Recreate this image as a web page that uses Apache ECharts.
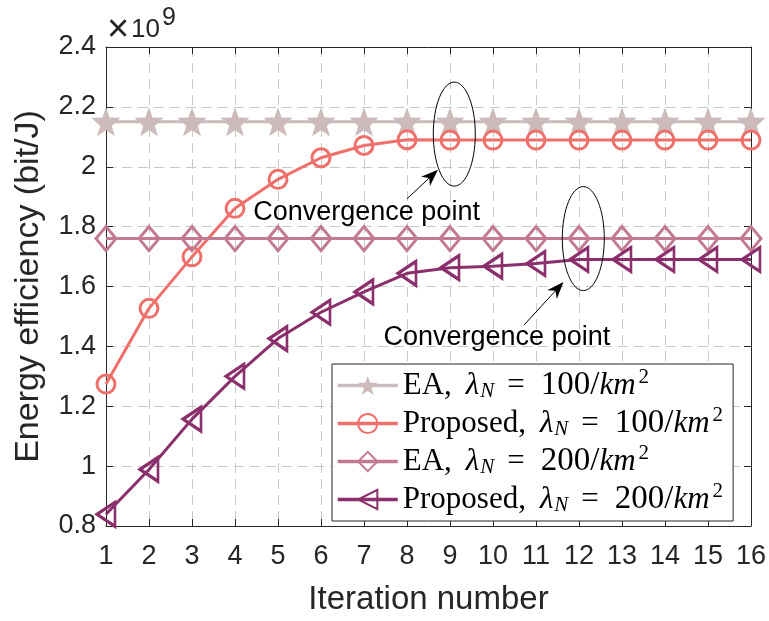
<!DOCTYPE html>
<html><head><meta charset="utf-8">
<script src="https://cdn.jsdelivr.net/npm/echarts/dist/echarts.min.js"></script>
<style>html,body{margin:0;padding:0;background:#fff}#c{width:769px;height:621px}</style>
</head><body><div id="c"></div><script>
// ---- data (energy efficiency in units of 10^9 bit/J) ----
const iterations = [1,2,3,4,5,6,7,8,9,10,11,12,13,14,15,16];
const ea100   = [2.15,2.15,2.15,2.15,2.15,2.15,2.15,2.15,2.15,2.15,2.15,2.15,2.15,2.15,2.15,2.15];
const prop100 = [1.274,1.527,1.699,1.861,1.958,2.030,2.071,2.090,2.089,2.089,2.089,2.089,2.089,2.089,2.089,2.089];
const ea200   = [1.76,1.76,1.76,1.76,1.76,1.76,1.76,1.76,1.76,1.76,1.76,1.76,1.76,1.76,1.76,1.76];
const prop200 = [0.839,0.989,1.157,1.300,1.426,1.514,1.582,1.644,1.663,1.668,1.677,1.690,1.690,1.690,1.690,1.690];
const yTicks  = [0.8,1.0,1.2,1.4,1.6,1.8,2.0,2.2,2.4];
const xTicks  = iterations;
const seriesNames = ['EA100','Prop100','EA200','Prop200'];
const methods   = ['EA','Proposed','EA','Proposed'];
const densities = [100,100,200,200];
// annotation anchors (data coordinates)
const ellipseCenters = [[9.1, 2.109],[12.1, 1.76]];
const arrows = [ {from:[8.0,1.893], to:[8.72,1.990]}, {from:[10.72,1.471], to:[11.64,1.615]} ];
const noteCenters = [[7.06,1.848],[10.09,1.431]];
const noteText = 'Convergence point';

const SANS = 'Liberation Sans, Arial, Helvetica, sans-serif';
const SERIF = 'Liberation Serif, Times New Roman, serif';
const AX = '#262626';
const colors = ['#CDBBBB','#EF6F6A','#C27A93','#8A2F6B'];

const chart = echarts.init(document.getElementById('c'), null, {renderer:'canvas'});
const pairs = arr => arr.map((v,i)=>[iterations[i], v]);
const valuesList = [ea100, prop100, ea200, prop200];
const STAR = 'path://M0,-10 L2.35,-3.24 L9.51,-3.09 L3.80,2.24 L5.88,9.09 L0,5 L-5.88,9.09 L-3.80,2.24 L-9.51,-3.09 L-2.35,-3.24 Z';
const symbolCfg = [
  {symbol: STAR, size: 29, rot: 0, filled: true},
  {symbol: 'circle', size: 18, rot: 0, filled: false},
  {symbol: 'diamond', size: [20,24], rot: 0, filled: false},
  {symbol: 'triangle', size: [24,18], rot: 90, filled: false}
];

const series = valuesList.map((vals, k) => ({
  name: seriesNames[k],
  type: 'line',
  data: pairs(vals),
  symbol: symbolCfg[k].symbol,
  symbolSize: symbolCfg[k].size,
  symbolRotate: symbolCfg[k].rot,
  showAllSymbol: true,
  clip: false,
  lineStyle: {color: colors[k], width: 3},
  itemStyle: symbolCfg[k].filled ? {color: colors[k], borderWidth: 0}
                                  : {color: 'transparent', borderColor: colors[k], borderWidth: 3},
  emphasis: {disabled: true},
  z: 2 + k
}));

const FS = 31;
const rich = {
  r:   {fontFamily: SERIF, fontSize: FS, color:'#000', lineHeight: 30},
  n:   {fontFamily: SERIF, fontSize: 33, color:'#000', lineHeight: 30},
  l:   {fontFamily: SERIF, fontSize: FS, fontStyle:'italic', color:'#000', lineHeight: 30, padding:[0,0,0,14]},
  i:   {fontFamily: SERIF, fontSize: FS, fontStyle:'italic', color:'#000', lineHeight: 30},
  sub: {fontFamily: SERIF, fontSize: 21, fontStyle:'italic', color:'#000', lineHeight: 30, padding:[12,0,0,1]},
  eq:  {fontFamily: SERIF, fontSize: FS, color:'#000', lineHeight: 30, padding:[0,16,0,13]},
  sup: {fontFamily: SERIF, fontSize: 21, color:'#000', lineHeight: 30, padding:[0,0,16,3]}
};

chart.setOption({
  animation: false,
  backgroundColor: '#fff',
  grid: {left: 106, right: 17, top: 47, bottom: 90, containLabel: false},
  xAxis: [{
    type: 'value', min: xTicks[0], max: xTicks[xTicks.length-1], interval: 1,
    name: 'Iteration number', nameLocation: 'middle', nameGap: 57,
    nameTextStyle: {fontFamily: SANS, fontSize: 33, color: AX},
    axisLine: {show: true, lineStyle: {color: AX, width: 1}},
    axisTick: {show: true, inside: true, length: 7, lineStyle: {color: AX}},
    axisLabel: {fontFamily: SANS, fontSize: 27, color: AX, margin: 17},
    splitLine: {show: true, lineStyle: {color: '#C8C8C8', type: [10,6], width: 1}}
  },{
    type: 'value', position: 'top', min: xTicks[0], max: xTicks[xTicks.length-1], interval: 1,
    axisLine: {show: true, lineStyle: {color: AX, width: 1}},
    axisTick: {show: true, inside: true, length: 7, lineStyle: {color: AX}},
    axisLabel: {show: false}, splitLine: {show: false}
  }],
  yAxis: [{
    type: 'value', min: yTicks[0], max: yTicks[yTicks.length-1], interval: 0.2,
    name: 'Energy efficiency (bit/J)', nameLocation: 'middle', nameGap: 60,
    nameTextStyle: {fontFamily: SANS, fontSize: 34, color: AX},
    axisLine: {show: true, lineStyle: {color: AX, width: 1}},
    axisTick: {show: true, inside: true, length: 7, lineStyle: {color: AX}},
    axisLabel: {fontFamily: SANS, fontSize: 27, color: AX, margin: 10,
      formatter: v => String(Math.round(v*10)/10)},
    splitLine: {show: true, lineStyle: {color: '#C8C8C8', type: [10,6], width: 1}}
  },{
    type: 'value', position: 'right', min: yTicks[0], max: yTicks[yTicks.length-1], interval: 0.2,
    axisLine: {show: true, lineStyle: {color: AX, width: 1}},
    axisTick: {show: true, inside: true, length: 7, lineStyle: {color: AX}},
    axisLabel: {show: false}, splitLine: {show: false}
  }],
  legend: {
    orient: 'vertical', left: 332, top: 364,
    data: seriesNames,
    backgroundColor: '#fff', borderColor: AX, borderWidth: 1,
    padding: [3, 10, 3, 4], itemGap: 1, itemWidth: 60, itemHeight: 24,
    lineStyle: {width: 3.5},
    selectedMode: false,
    textStyle: {rich: rich, fontFamily: SERIF, fontSize: FS, color: '#000'},
    formatter: name => {
      const k = seriesNames.indexOf(name);
      return `{r|${methods[k]},}{l|λ}{sub|N}{eq|=}{n|${densities[k]}/}{i|km}{sup|2}`;
    },
    z: 20
  },
  series: series
});

// annotations positioned from data coordinates
const px = p => chart.convertToPixel({gridIndex: 0}, p);
const g = [];
ellipseCenters.forEach(c => {
  const p = px(c);
  g.push({type:'ellipse', shape:{cx:p[0], cy:p[1], rx:21, ry:52}, style:{fill:'none', stroke:'#000', lineWidth:1}, z: 30});
});
arrows.forEach(a => {
  const f = px(a.from), t = px(a.to);
  const dx = t[0]-f[0], dy = t[1]-f[1], len = Math.hypot(dx,dy);
  const ux = dx/len, uy = dy/len, nx = -uy, ny = ux;
  const L = 17, W = 6.5, N = 5;
  g.push({type:'line', shape:{x1:f[0], y1:f[1], x2:t[0]-(L-N)*ux, y2:t[1]-(L-N)*uy}, style:{stroke:'#000', lineWidth:1}, z:30});
  g.push({type:'polygon', shape:{points:[
    [t[0], t[1]],
    [t[0]-L*ux+W*nx, t[1]-L*uy+W*ny],
    [t[0]-(L-N)*ux, t[1]-(L-N)*uy],
    [t[0]-L*ux-W*nx, t[1]-L*uy-W*ny]
  ]}, style:{fill:'#000'}, z:30});
});
noteCenters.forEach(c => {
  const p = px(c);
  g.push({type:'text', x:p[0], y:p[1], style:{text: noteText, font: '27px ' + SANS, fill:'#000', align:'center', verticalAlign:'middle'}, z:30});
});
// axis exponent label (×10^9)
const topLeft = px([xTicks[0], yTicks[yTicks.length-1]]);
g.push({type:'text', x: topLeft[0]+1, y: topLeft[1]-16, style:{text: '×', font: '38px ' + SANS, fill: AX, align:'left', verticalAlign:'middle'}, z:30});
g.push({type:'text', x: topLeft[0]+25, y: topLeft[1]-17, style:{text: '10', font: '26px ' + SANS, fill: AX, align:'left', verticalAlign:'middle'}, z:30});
g.push({type:'text', x: topLeft[0]+56, y: topLeft[1]-29, style:{text: '9', font: '25px ' + SANS, fill: AX, align:'left', verticalAlign:'middle'}, z:30});
chart.setOption({graphic: g});
</script></body></html>
